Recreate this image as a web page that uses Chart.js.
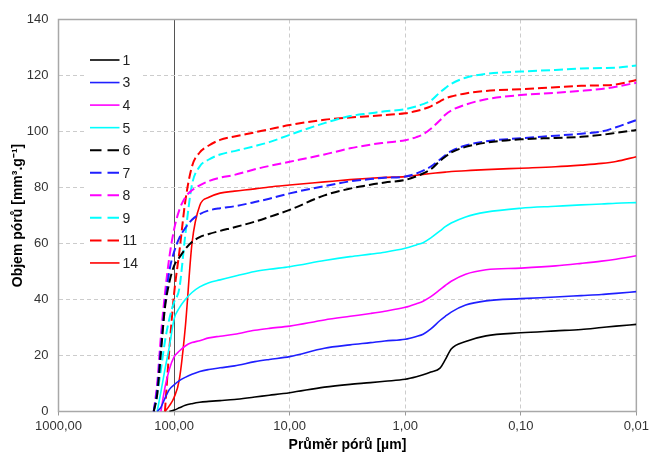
<!DOCTYPE html>
<html>
<head>
<meta charset="utf-8">
<script src="https://cdn.jsdelivr.net/npm/chart.js@4.4.1/dist/chart.umd.min.js"></script>
<style>
  html, body { margin: 0; padding: 0; background: #fff; }
</style>
</head>
<body>
<canvas id="chart" width="652" height="456"></canvas>
<script>
// pore diameter [um], shared by every series
const diameters = [150, 140, 130, 120, 110, 100, 90, 80, 70, 60, 50, 40, 30, 20, 15, 10, 5, 3, 2, 1.5,
  1, 0.8, 0.7, 0.6, 0.5, 0.45, 0.4, 0.3, 0.2, 0.1, 0.05, 0.03, 0.02, 0.015, 0.01];

const s1 = [null, null, null, null, 0, 0.5, 1.3, 2.2, 2.8, 3.3, 3.6, 3.9, 4.3, 5.2, 5.8, 6.7, 8.7, 9.7, 10.3, 10.8,
  11.5, 12.4, 13.1, 14.1, 15.5, 18.5, 22.3, 25, 27, 28.1, 28.8, 29.3, 30, 30.5, 31.1];
const s3 = [null, 0, 1.5, 4.7, 7.8, 9.5, 11, 12.2, 13.3, 14.3, 15, 15.6, 16.3, 17.8, 18.6, 19.6, 22.6, 23.8, 24.6, 25.2,
  25.8, 26.8, 27.6, 29.5, 32.5, 34, 35.5, 38, 39.5, 40.3, 40.9, 41.4, 41.8, 42.2, 42.8];
const s4 = [null, null, 0, 8.5, 15, 19.5, 21.6, 23.4, 24.6, 25.3, 26.3, 26.9, 27.6, 29, 29.7, 30.5, 32.7, 34, 35, 35.8,
  37.2, 38.5, 39.4, 41, 43.5, 45, 46.5, 49, 50.6, 51.2, 52, 52.9, 53.7, 54.4, 55.6];
const s5 = [null, 0, 7, 15, 23, 33, 37, 40, 42.5, 44.5, 46, 47, 48.3, 50, 50.8, 51.7, 53.9, 55.3, 56.2, 56.9,
  58.3, 59.5, 60.3, 62, 64.5, 66, 67.3, 69.5, 71.2, 72.6, 73.3, 73.8, 74.1, 74.4, 74.6];
const s6 = [0, 6, 21, 37, 46, 52, 55, 58, 60.5, 62.3, 63.4, 64.5, 65.8, 67.8, 69.5, 72, 77.2, 79.6, 81, 81.8,
  82.7, 84, 85, 86.5, 89.5, 91, 92.5, 94.5, 96, 97.2, 97.7, 98.1, 98.8, 99.5, 100.5];
const s7 = [0, 8, 23, 38, 50, 57, 62, 65.5, 68.5, 70.5, 71.8, 72.6, 73.3, 74.8, 76, 77.9, 80.5, 82.2, 83, 83.5,
  83.9, 85, 86, 87.5, 90, 91.5, 93, 95, 96.5, 97.6, 98.5, 99.2, 100, 101.5, 104.1];
const s8 = [0, 10, 27, 42, 55, 65, 72, 76.5, 79, 80.8, 82.3, 83.5, 84.5, 86.5, 87.7, 89.2, 91.8, 94, 95.3, 96,
  96.9, 98, 99, 101, 104, 106, 107.5, 109.6, 111.5, 113, 113.8, 114.5, 115.2, 116, 117.4];
const s9 = [0, 6, 15, 25, 33, 39, 44, 63, 81, 87.5, 90, 91.8, 93, 94.8, 96.2, 98.8, 103, 105.5, 106.5, 107.2,
  108, 109, 109.8, 111, 114, 115.5, 117, 119.2, 120.6, 121.4, 122, 122.5, 122.7, 122.8, 123.6];
const s11 = [null, null, null, 0, 22, 42, 57, 75, 87.5, 92.5, 95, 97, 98.2, 99.7, 100.8, 102.3, 104.2, 105, 105.5, 105.9,
  106.5, 107.3, 108, 109, 110.8, 111.8, 112.5, 113.6, 114.5, 115.1, 115.8, 116.3, 116.5, 116.8, 118.4];
const s14 = [null, null, null, 0, 2, 5, 11.5, 30, 60, 73.5, 76.5, 78, 78.7, 79.5, 80.2, 80.9, 82, 82.8, 83.3, 83.6,
  83.9, 84.4, 84.7, 85, 85.3, 85.5, 85.7, 86, 86.4, 86.9, 87.4, 88, 88.6, 89.3, 91];

const seriesNames = ["1", "3", "4", "5", "6", "7", "8", "9", "11", "14"];
const seriesValues = [s1, s3, s4, s5, s6, s7, s8, s9, s11, s14];
const seriesColors = ["#000000", "#1f1fff", "#ff00ff", "#00ffff", "#000000",
  "#1f1fff", "#ff00ff", "#00ffff", "#ff0000", "#ff0000"];
const seriesDashed = [false, false, false, false, true, true, true, true, true, false];

const xTicks = [1000, 100, 10, 1, 0.1, 0.01];

Chart.defaults.font.family = "'Liberation Sans', Arial, sans-serif";

const datasets = seriesNames.map((name, i) => ({
  label: name,
  data: diameters.map((d, j) => ({ x: d, y: seriesValues[i][j] })),
  borderColor: seriesColors[i],
  borderWidth: seriesDashed[i] ? 2 : 1.6,
  borderDash: seriesDashed[i] ? [9, 4] : [],
  pointRadius: 0,
  fill: false,
  cubicInterpolationMode: "monotone",
}));

// grey frame round the plot area
const framePlugin = {
  id: "frame",
  beforeDatasetsDraw(chart) {
    const { ctx, chartArea: a } = chart;
    ctx.save();
    ctx.strokeStyle = "#a8a8a8";
    ctx.lineWidth = 1.5;
    ctx.strokeRect(a.left, a.top, a.right - a.left, a.bottom - a.top);
    ctx.restore();
  },
};

// legend box sitting inside the plot
const legendPlugin = {
  id: "insideLegend",
  afterDraw(chart) {
    const ctx = chart.ctx;
    ctx.save();
    ctx.fillStyle = "#ffffff";
    ctx.fillRect(84, 47, 58, 229);
    chart.data.datasets.forEach((ds, i) => {
      const y = 60 + i * 22.55;
      ctx.strokeStyle = ds.borderColor;
      ctx.lineWidth = ds.borderWidth;
      ctx.setLineDash(ds.borderDash.length ? [11.5, 6] : []);
      ctx.beginPath();
      ctx.moveTo(90, y);
      ctx.lineTo(119.5, y);
      ctx.stroke();
      ctx.setLineDash([]);
      ctx.fillStyle = "#222";
      ctx.font = "14px 'Liberation Sans', Arial, sans-serif";
      ctx.textBaseline = "middle";
      ctx.fillText(ds.label, 122.5, y + 1);
    });
    ctx.restore();
  },
};

new Chart(document.getElementById("chart"), {
  type: "line",
  data: { datasets: datasets },
  options: {
    responsive: false,
    animation: false,
    layout: { padding: { top: 19.5, right: 15, left: 0, bottom: 0 } },
    plugins: { legend: { display: false }, tooltip: { enabled: false } },
    scales: {
      x: {
        type: "logarithmic",
        reverse: true,
        min: 0.01,
        max: 1000,
        afterBuildTicks: (scale) => {
          scale.ticks = xTicks.map((v) => ({ value: v }));
        },
        afterFit: (scale) => {
          scale.height = 44.5;
        },
        ticks: {
          autoSkip: false,
          maxRotation: 0,
          color: "#333",
          font: { size: 13 },
          padding: 3,
          callback: (v) => Number(v).toFixed(2).replace(".", ","),
        },
        grid: {
          color: (ctx) => {
            const v = ctx.tick.value;
            if (v === 1000 || v === 0.01) return "rgba(0,0,0,0)";
            return v === 100 ? "#555555" : "#cccccc";
          },
          tickColor: "#999999",
          tickLength: 4,
          lineWidth: 1,
        },
        border: {
          display: false,
          dash: (ctx) => (ctx.tick && ctx.tick.value === 100 ? [] : [4, 3]),
        },
        title: {
          display: true,
          text: "Průměr pórů [µm]",
          color: "#000",
          font: { size: 14, weight: "bold" },
          padding: { top: 0, bottom: 2 },
        },
      },
      y: {
        min: 0,
        max: 140,
        afterFit: (scale) => {
          scale.width = 58.5;
        },
        ticks: { stepSize: 20, color: "#333", font: { size: 13 }, padding: 10 },
        grid: {
          drawTicks: false,
          color: (ctx) => {
            const v = ctx.tick.value;
            return v === 0 || v === 140 ? "rgba(0,0,0,0)" : "#cccccc";
          },
        },
        border: { display: false, dash: [4, 3] },
        title: {
          display: true,
          text: "Objem pórů [mm³.g⁻¹]",
          color: "#000",
          font: { size: 14, weight: "bold" },
          padding: { top: 10, bottom: 0 },
        },
      },
    },
  },
  plugins: [framePlugin, legendPlugin],
});
</script>
</body>
</html>
